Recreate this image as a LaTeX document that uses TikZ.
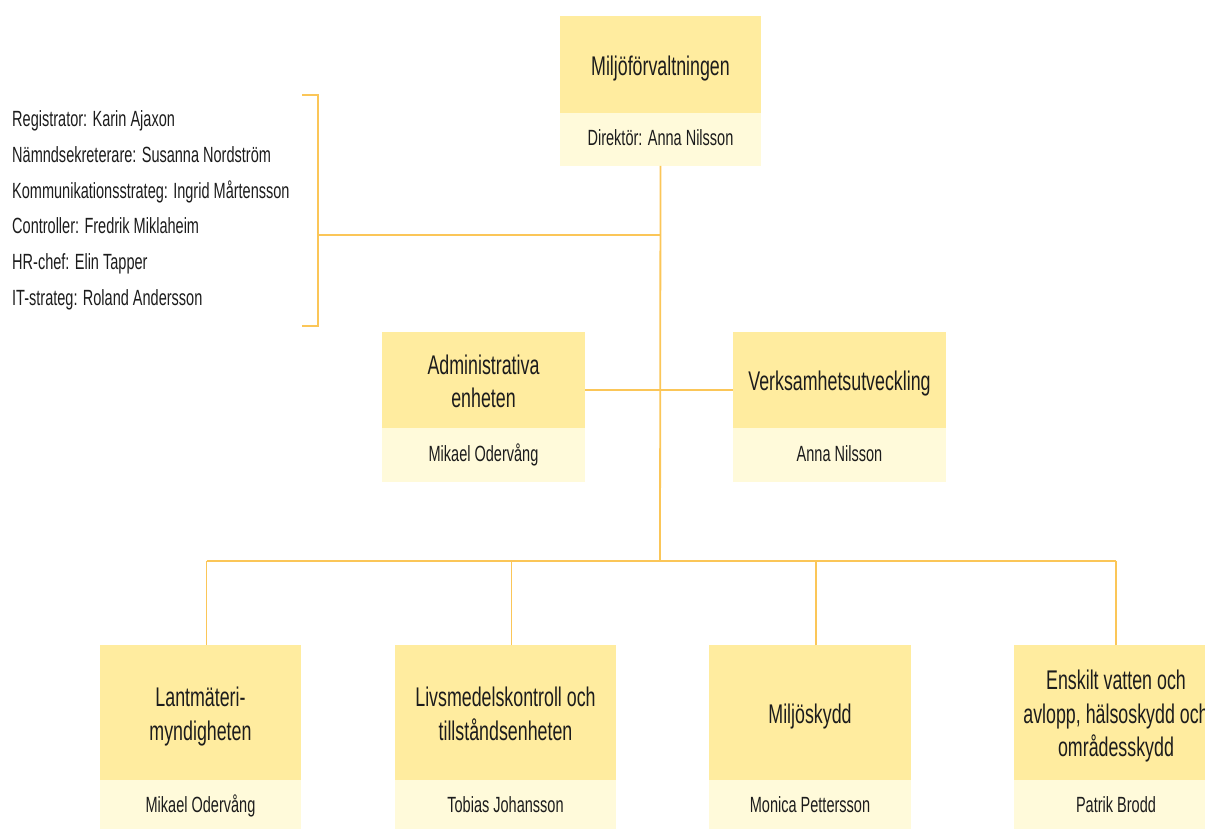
\documentclass[tikz,border=0pt]{standalone}
\usepackage{fontspec}
\setmainfont{Liberation Sans}[FakeStretch=0.66]
\usetikzlibrary{positioning}
\definecolor{headyellow}{HTML}{FFEC9F}
\definecolor{nameyellow}{HTML}{FFFADA}
\definecolor{linkorange}{HTML}{FBC658}
\definecolor{inkgray}{HTML}{1C1C1C}
\tikzset{node distance=0pt,
	unithead/.style={
		fill=headyellow,
		inner sep=0pt, outer sep=0pt,
		align=center,
		text=inkgray,
		text height=#1, text depth=0pt,
		font=\fontsize{27}{33.5}\selectfont},
	unithead/.default=21.5pt,
	unitname/.style={
		fill=nameyellow,
		inner sep=0pt, outer sep=0pt,
		text=inkgray,
		text height=16pt, text depth=4pt,
		font=\fontsize{22}{26}\selectfont},
	stafftext/.style={
		inner sep=0pt,
		text=inkgray,
		font=\fontsize{22}{26}\selectfont},
	link/.style={
		draw=linkorange,
		line width=1.8pt}
}
\begin{document}
\begin{tikzpicture}[x=1pt, y=-1pt]
	\useasboundingbox (0,0) rectangle (1205,829);
	\clip (0,0) rectangle (1205,829);
	% top
	\node[unithead, minimum width=201pt, minimum height=97pt] (forvhead) at (660.5,64.5) {Miljöförvaltningen};
	\node[unitname, minimum width=201pt, minimum height=53pt, below=of forvhead] (forvname) {Direktör: Anna Nilsson};
	% staff
	\foreach \who [count=\i from 0] in {Registrator: Karin Ajaxon, Nämndsekreterare: Susanna Nordström, Kommunikationsstrateg: Ingrid Mårtensson, Controller: Fredrik Miklaheim, HR-chef: Elin Tapper, IT-strateg: Roland Andersson}
		\node[stafftext, anchor=base west] (staff\i) at (12,127+35.6*\i) {\who};
	% middle
	\node[unithead=55pt, minimum width=203pt, minimum height=96pt] (admhead) at (483.5,380) {Administrativa\\enheten};
	\node[unitname, minimum width=203pt, minimum height=54pt, below=of admhead] (admname) {Mikael Odervång};
	\node[unithead, minimum width=213pt, minimum height=96pt] (verkhead) at (839.5,380) {Verksamhetsutveckling};
	\node[unitname, minimum width=213pt, minimum height=54pt, below=of verkhead] (verkname) {Anna Nilsson};
	% bottom
	\node[unithead=55pt, minimum width=201pt, minimum height=135pt] (lmhead) at (200.5,712.5) {Lantmäteri-\\myndigheten};
	\node[unitname, minimum width=201pt, minimum height=53pt, below=of lmhead] (lmname) {Mikael Odervång};
	\node[unithead=55pt, minimum width=221pt, minimum height=135pt] (livhead) at (505.5,712.5) {Livsmedelskontroll och\\tillståndsenheten};
	\node[unitname, minimum width=221pt, minimum height=53pt, below=of livhead] (livname) {Tobias Johansson};
	\node[unithead, minimum width=202pt, minimum height=135pt] (miljhead) at (810,712.5) {Miljöskydd};
	\node[unitname, minimum width=202pt, minimum height=53pt, below=of miljhead] (miljname) {Monica Pettersson};
	\node[unithead=88.5pt, minimum width=204pt, minimum height=135pt] (enskhead) at (1116,712.5) {Enskilt vatten och\\avlopp, hälsoskydd och\\områdesskydd};
	\node[unitname, minimum width=204pt, minimum height=53pt, below=of enskhead] (enskname) {Patrik Brodd};
	% connectors
	\coordinate (brtop) at (302,95);
	\coordinate (brmid) at (318,235);
	\coordinate (brbot) at (302,326);
	\coordinate (bus) at (660,561);
	\draw[link] (brtop) -| (brmid) |- (brbot);
	\draw[link] (forvname.south) -- (bus);
	\draw[link] (brmid) -- (brmid -| forvname.south);
	\draw[link] ([yshift=-10pt]admhead.east) -- ([yshift=-10pt]verkhead.west);
	\foreach \n/\dx in {lm/6,liv/6,milj/6,ensk/0} {
		\coordinate (\n top) at ([xshift=\dx pt]\n head.north);
		\draw[link] (\n top) -- (\n top |- bus);
	}
	\draw[link] (lmtop |- bus) -- (ensktop |- bus);
\end{tikzpicture}
\end{document}
